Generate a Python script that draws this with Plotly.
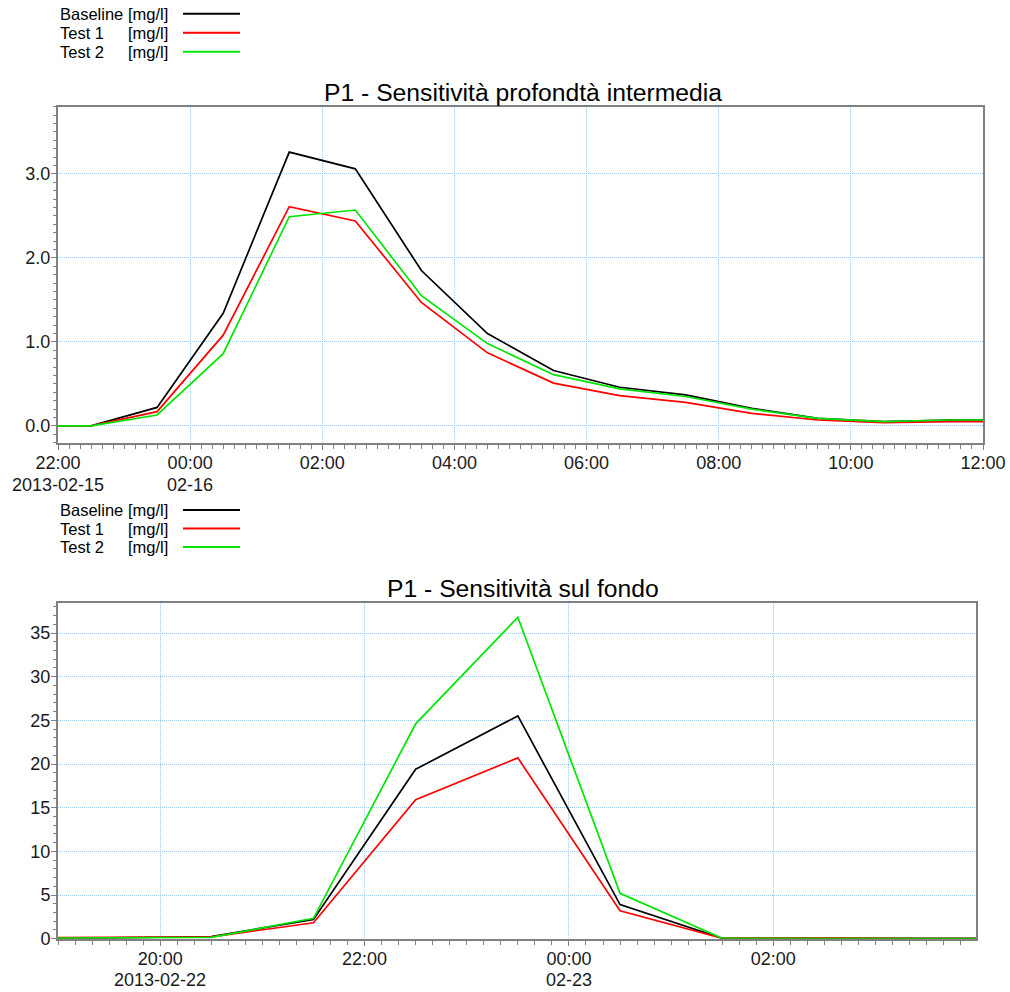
import plotly.graph_objects as go

W, H = 1010, 992

# ---------- data: top chart ----------
top_times = ["2013-02-15 21:30", "2013-02-15 22:30", "2013-02-15 23:30",
             "2013-02-16 00:30", "2013-02-16 01:30", "2013-02-16 02:30",
             "2013-02-16 03:30", "2013-02-16 04:30", "2013-02-16 05:30",
             "2013-02-16 06:30", "2013-02-16 07:30", "2013-02-16 08:30",
             "2013-02-16 09:30", "2013-02-16 10:30", "2013-02-16 11:30",
             "2013-02-16 12:30"]
top_baseline = [0, 0, 0.22, 1.34, 3.26, 3.06, 1.85, 1.10, 0.66, 0.46, 0.37, 0.21, 0.09, 0.05, 0.07, 0.07]
top_test1 = [0, 0, 0.17, 1.08, 2.61, 2.44, 1.47, 0.87, 0.51, 0.36, 0.28, 0.15, 0.07, 0.04, 0.05, 0.05]
top_test2 = [0, 0, 0.13, 0.86, 2.49, 2.57, 1.55, 0.98, 0.61, 0.44, 0.35, 0.20, 0.09, 0.05, 0.07, 0.07]
top_tickvals = ["2013-02-15 22:00", "2013-02-16 00:00", "2013-02-16 02:00", "2013-02-16 04:00",
                "2013-02-16 06:00", "2013-02-16 08:00", "2013-02-16 10:00", "2013-02-16 12:00"]
top_ticktext = ["22:00", "00:00", "02:00", "04:00", "06:00", "08:00", "10:00", "12:00"]
top_datevals = ["2013-02-15 22:00", "2013-02-16 00:00"]
top_datetext = ["2013-02-15", "02-16"]
top_title = "P1 - Sensitività profondtà intermedia"

# ---------- data: bottom chart ----------
bot_times = ["2013-02-22 18:30", "2013-02-22 19:30", "2013-02-22 20:30", "2013-02-22 21:30",
             "2013-02-22 22:30", "2013-02-22 23:30", "2013-02-23 00:30", "2013-02-23 01:30",
             "2013-02-23 02:30", "2013-02-23 03:30", "2013-02-23 04:30"]
bot_baseline = [0.1, 0.1, 0.25, 2.2, 19.4, 25.5, 3.9, 0.05, 0.05, 0.02, 0.02]
bot_test1 = [0.1, 0.15, 0.2, 1.83, 15.9, 20.7, 3.2, 0.05, 0.1, 0.02, 0.02]
bot_test2 = [0.05, 0.1, 0.15, 2.33, 24.6, 36.8, 5.2, 0.05, 0.03, 0.02, 0.02]
bot_tickvals = ["2013-02-22 20:00", "2013-02-22 22:00", "2013-02-23 00:00", "2013-02-23 02:00"]
bot_ticktext = ["20:00", "22:00", "00:00", "02:00"]
bot_datevals = ["2013-02-22 20:00", "2013-02-23 00:00"]
bot_datetext = ["2013-02-22", "02-23"]
bot_title = "P1 - Sensitività sul fondo"

series_names = ["Baseline", "Test 1", "Test 2"]
series_unit = "[mg/l]"
colors = ["#000000", "#ff0000", "#00e600"]

FONT = "Liberation Sans, Arial, sans-serif"

fig = go.Figure()
for vals, name, col in zip([top_baseline, top_test1, top_test2], series_names, colors):
    fig.add_trace(go.Scatter(x=top_times, y=vals, mode="lines", name=name,
                             line=dict(color=col, width=1.7), xaxis="x", yaxis="y",
                             showlegend=False))
for vals, name, col in zip([bot_baseline, bot_test1, bot_test2], series_names, colors):
    fig.add_trace(go.Scatter(x=bot_times, y=vals, mode="lines", name=name,
                             line=dict(color=col, width=1.7), xaxis="x2", yaxis="y2",
                             showlegend=False))

def px_x(p):
    return p / W

def px_y(p):
    return 1 - p / H

axis_common = dict(showline=True, linecolor="#808080", linewidth=2, mirror=True,
                   showgrid=True, gridcolor="#9fcbf5", griddash="1px,1px", gridwidth=1,
                   zeroline=False, ticks="outside", ticklen=5, tickcolor="#808080",
                   automargin=False,
                   tickfont=dict(family=FONT, size=18, color="#1a1a1a"))

fig.update_layout(
    width=W, height=H,
    margin=dict(l=0, r=0, t=0, b=0),
    paper_bgcolor="white", plot_bgcolor="white",
    font=dict(family=FONT, color="#000000"),
    xaxis=dict(domain=[px_x(58), px_x(983)], anchor="y", type="date",
               range=["2013-02-15 22:00", "2013-02-16 12:00"],
               tickmode="array", tickvals=top_tickvals, ticktext=top_ticktext,
               ticklabelstandoff=-2,
               minor=dict(ticks="outside", ticklen=4, tickcolor="#808080",
                          dtick=600000, tick0="2013-02-15 22:00", showgrid=False),
               **axis_common),
    yaxis=dict(domain=[px_y(442.7), px_y(106.7)], anchor="x",
               range=[-0.2, 3.8], dtick=1.0, tick0=0, tickformat=".1f",
               ticklabelstandoff=-3,
               minor=dict(ticks="outside", ticklen=3, tickcolor="#808080",
                          dtick=0.1, showgrid=False),
               **axis_common),
    xaxis2=dict(domain=[px_x(58), px_x(976)], anchor="y2", type="date",
                range=["2013-02-22 19:00", "2013-02-23 03:59"],
                tickmode="array", tickvals=bot_tickvals, ticktext=bot_ticktext,
                ticklabelstandoff=-2,
                minor=dict(ticks="outside", ticklen=4, tickcolor="#808080",
                           dtick=600000, tick0="2013-02-22 19:00", showgrid=False),
                **axis_common),
    yaxis2=dict(domain=[px_y(938.7), px_y(603.3)], anchor="x2",
                range=[0, 38.4], dtick=5, tick0=0,
                ticklabelstandoff=-3,
                minor=dict(ticks="outside", ticklen=3, tickcolor="#808080",
                           dtick=1, showgrid=False),
                **axis_common),
)

annotations = []
shapes = []

# titles
for text, yc in [(top_title, 92), (bot_title, 588)]:
    annotations.append(dict(text=text, x=px_x(523), y=px_y(yc), xref="paper", yref="paper",
                            xanchor="center", yanchor="middle", showarrow=False,
                            font=dict(family=FONT, size=24.7, color="#000000")))

# date second line under the tick labels
for vals, texts, xref, yc in [(top_datevals, top_datetext, "x", 485),
                              (bot_datevals, bot_datetext, "x2", 979.5)]:
    for v, t in zip(vals, texts):
        annotations.append(dict(text=t, x=v, y=px_y(yc), xref=xref, yref="paper",
                                xanchor="center", yanchor="middle", showarrow=False,
                                font=dict(family=FONT, size=18, color="#1a1a1a")))

# legends (text then line sample, as in the reference)
for rows in [[13.7, 32.7, 51.7], [510, 528.5, 547]]:
    for name, col, yc in zip(series_names, colors, rows):
        annotations.append(dict(text=name, x=px_x(58), y=px_y(yc), xref="paper", yref="paper",
                                xanchor="left", yanchor="middle", showarrow=False,
                                font=dict(family=FONT, size=16.5, color="#000000")))
        annotations.append(dict(text=series_unit, x=px_x(126), y=px_y(yc), xref="paper", yref="paper",
                                xanchor="left", yanchor="middle", showarrow=False,
                                font=dict(family=FONT, size=16.5, color="#000000")))
        shapes.append(dict(type="line", xref="paper", yref="paper",
                           x0=px_x(183), x1=px_x(240), y0=px_y(yc), y1=px_y(yc),
                           line=dict(color=col, width=2)))

fig.update_layout(annotations=annotations, shapes=shapes)

fig.write_html("out.html", config={"displayModeBar": False},
               post_script="document.body.style.margin='0';document.body.style.overflow='hidden';")
